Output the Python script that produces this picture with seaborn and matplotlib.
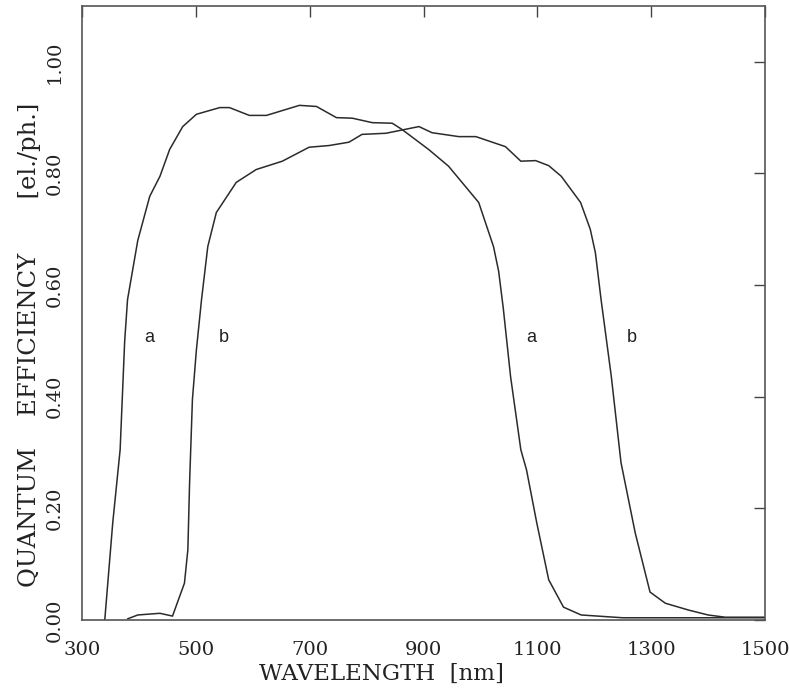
import numpy as np
import pandas as pd
import matplotlib
matplotlib.use("Agg")
import matplotlib.pyplot as plt
import seaborn as sns

# Curve a
wl_a = [340, 354, 367, 375, 380, 398, 419, 437, 454, 477, 501, 542, 559, 594, 624,
        682, 712, 747, 775, 810, 845, 862, 909, 944, 997, 1023, 1032, 1040, 1053,
        1071, 1081, 1099, 1120, 1146, 1177, 1250, 1500]
qe_a = [0.0, 0.174, 0.305, 0.50, 0.574, 0.68, 0.759, 0.795, 0.843, 0.884, 0.906, 0.918,
        0.918, 0.904, 0.904, 0.922, 0.92, 0.90, 0.899, 0.891, 0.89, 0.879, 0.843,
        0.813, 0.748, 0.669, 0.625, 0.56, 0.436, 0.305, 0.269, 0.174, 0.072, 0.023,
        0.009, 0.004, 0.004]

# Curve b
wl_b = [380, 398, 437, 459, 480, 486, 489, 494, 501, 510, 521, 536, 571, 606, 652,
        699, 734, 769, 792, 834, 892, 915, 962, 992, 1044, 1071, 1097, 1120, 1142,
        1176, 1193, 1202, 1212, 1230, 1247, 1272, 1298, 1325, 1365, 1400, 1430, 1500]
qe_b = [0.002, 0.009, 0.012, 0.007, 0.066, 0.126, 0.245, 0.395, 0.484, 0.574, 0.669,
        0.73, 0.784, 0.807, 0.822, 0.847, 0.85, 0.856, 0.87, 0.872, 0.884, 0.873,
        0.866, 0.866, 0.848, 0.822, 0.823, 0.814, 0.795, 0.748, 0.70, 0.658, 0.574,
        0.436, 0.282, 0.156, 0.05, 0.03, 0.018, 0.009, 0.005, 0.005]

curve_labels = ["a", "b", "a", "b"]
label_x = [419, 549, 1089, 1266]
label_y = [0.506, 0.506, 0.506, 0.506]

x_ticks = [300, 500, 700, 900, 1100, 1300, 1500]
y_ticks = [0.0, 0.2, 0.4, 0.6, 0.8, 1.0]
y_tick_labels = ["0.00", "0.20", "0.40", "0.60", "0.80", "1.00"]

df = pd.concat([
    pd.DataFrame({"wl": wl_a, "qe": qe_a, "curve": "a"}),
    pd.DataFrame({"wl": wl_b, "qe": qe_b, "curve": "b"}),
])

sns.set_style("white")
plt.rcParams["font.family"] = ["DejaVu Serif"]

fig = plt.figure(figsize=(7.89, 6.96), dpi=100)
ax = fig.add_axes([82 / 789, 1 - 620 / 696, (765 - 82) / 789, (620 - 6) / 696])

line_color = "#2b2b2b"
sns.lineplot(data=df, x="wl", y="qe", units="curve", estimator=None, sort=False,
             color=line_color, linewidth=1.1, ax=ax, legend=False)

ax.set_xlim(300, 1500)
ax.set_ylim(0, 1.1)

ax.set_xticks(x_ticks)
ax.set_xticklabels([str(v) for v in x_ticks], fontsize=14)
ax.set_yticks(y_ticks)
ax.set_yticklabels(y_tick_labels, fontsize=14, rotation=90, va="center")

ax.tick_params(axis="x", direction="out", length=6, width=1, pad=9, colors="#222222")
ax.tick_params(axis="y", direction="out", length=6, width=1, pad=7, colors="#222222")

# top and right ticks pointing inward
top = ax.secondary_xaxis("top")
top.set_xticks(x_ticks)
top.tick_params(direction="in", length=8, width=1, labeltop=False, colors="#444444")
right = ax.secondary_yaxis("right")
right.set_yticks(y_ticks)
right.tick_params(direction="in", length=8, width=1, labelright=False, colors="#444444")
for s in list(top.spines.values()) + list(right.spines.values()):
    s.set_visible(False)

for s in ax.spines.values():
    s.set_color("#555555")
    s.set_linewidth(1.2)
    s.set_visible(True)

ax.set_xlabel("WAVELENGTH  [nm]", fontsize=16.5, color="#222222")
ax.set_ylabel("QUANTUM    EFFICIENCY       [el./ph.]", fontsize=17.5, color="#222222")
ax.xaxis.set_label_coords((381 - 82) / (765 - 82), -(663 - 620) / (620 - 6))
ax.yaxis.set_label_coords(-(82 - 41) / (765 - 82), (620 - 345) / (620 - 6))

for t, xv, yv in zip(curve_labels, label_x, label_y):
    ax.text(xv, yv, t, fontsize=13, family=["Liberation Sans"], ha="center",
            va="center", color="#222222")

fig.savefig("out.png", dpi=100)
